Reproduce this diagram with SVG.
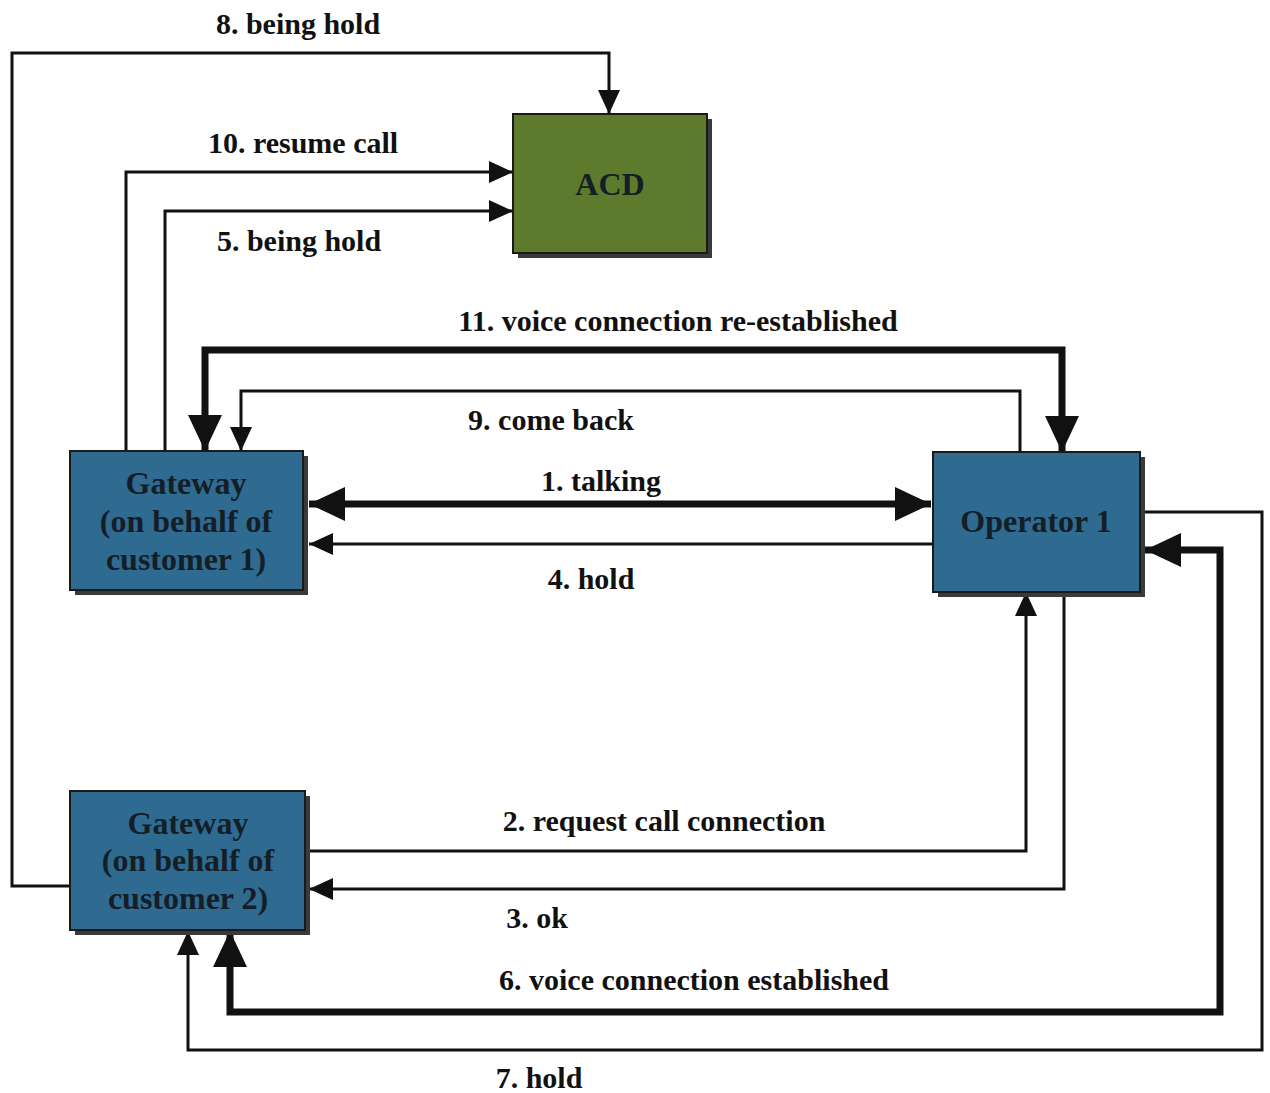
<svg xmlns="http://www.w3.org/2000/svg" width="1270" height="1093" viewBox="0 0 1270 1093">
<style>
.lbl{font-family:"Liberation Serif","Times New Roman",serif;font-weight:bold;font-size:30px;fill:#111;text-anchor:middle}
.bt{font-family:"Liberation Serif","Times New Roman",serif;font-weight:bold;font-size:32px;fill:#141e26;text-anchor:middle}
.thin{fill:none;stroke:#111;stroke-width:3}
.thick{fill:none;stroke:#111;stroke-width:7}
.shadow{fill:#3a3a3a}
.box{stroke:#1a1a1a;stroke-width:2}
</style>
<defs>
<marker id="a" markerUnits="userSpaceOnUse" markerWidth="26" markerHeight="22" refX="24" refY="11" orient="auto-start-reverse"><path d="M0,0 L24,11 L0,22 z" fill="#111"/></marker>
<marker id="A" markerUnits="userSpaceOnUse" markerWidth="38" markerHeight="34" refX="36" refY="17" orient="auto-start-reverse"><path d="M0,0 L36,17 L0,34 z" fill="#111"/></marker>
</defs>
<g id="connectors">
<path class="thin" d="M70,886 H12 V53 H609 V114" marker-end="url(#a)"/>
<path class="thin" d="M126,451 V172 H513" marker-end="url(#a)"/>
<path class="thin" d="M165,451 V211 H513" marker-end="url(#a)"/>
<path class="thick" d="M205,451 V350 H1062 V452" marker-start="url(#A)" marker-end="url(#A)"/>
<path class="thin" d="M1020,452 V391 H241 V451" marker-end="url(#a)"/>
<path class="thick" d="M309,504 H931" marker-start="url(#A)" marker-end="url(#A)"/>
<path class="thin" d="M933,544 H309" marker-end="url(#a)"/>
<path class="thin" d="M305,851 H1026 V592" marker-end="url(#a)"/>
<path class="thin" d="M1064,592 V889 H309" marker-end="url(#a)"/>
<path class="thick" d="M1145,550 H1220 V1012 H230 V931" marker-start="url(#A)" marker-end="url(#A)"/>
<path class="thin" d="M1140,512 H1262 V1050 H188 V931" marker-end="url(#a)"/>
</g>
<g id="labels">
<text class="lbl" x="298" y="34">8. being hold</text>
<text class="lbl" x="303" y="153">10. resume call</text>
<text class="lbl" x="299" y="251">5. being hold</text>
<text class="lbl" x="678" y="331">11. voice connection re-established</text>
<text class="lbl" x="551" y="430">9. come back</text>
<text class="lbl" x="601" y="491">1. talking</text>
<text class="lbl" x="591" y="589">4. hold</text>
<text class="lbl" x="664" y="831">2. request call connection</text>
<text class="lbl" x="537" y="928">3. ok</text>
<text class="lbl" x="694" y="990">6. voice connection established</text>
<text class="lbl" x="539" y="1088">7. hold</text>
</g>
<g id="acd">
<rect class="shadow" x="518" y="119" width="194" height="139"/>
<rect class="box" x="513" y="114" width="194" height="139" fill="#5e7a2c"/>
<text class="bt" x="610" y="195">ACD</text>
</g>
<g id="gateway1">
<rect class="shadow" x="75" y="456" width="233" height="139"/>
<rect class="box" x="70" y="451" width="233" height="139" fill="#2f6a90"/>
<text class="bt" x="186" y="494">Gateway</text>
<text class="bt" x="186" y="532">(on behalf of</text>
<text class="bt" x="186" y="570">customer 1)</text>
</g>
<g id="operator1">
<rect class="shadow" x="938" y="457" width="207" height="140"/>
<rect class="box" x="933" y="452" width="207" height="140" fill="#2f6a90"/>
<text class="bt" x="1036" y="532">Operator 1</text>
</g>
<g id="gateway2">
<rect class="shadow" x="75" y="796" width="235" height="139"/>
<rect class="box" x="70" y="791" width="235" height="139" fill="#2f6a90"/>
<text class="bt" x="188" y="834">Gateway</text>
<text class="bt" x="188" y="871">(on behalf of</text>
<text class="bt" x="188" y="909">customer 2)</text>
</g>
</svg>
